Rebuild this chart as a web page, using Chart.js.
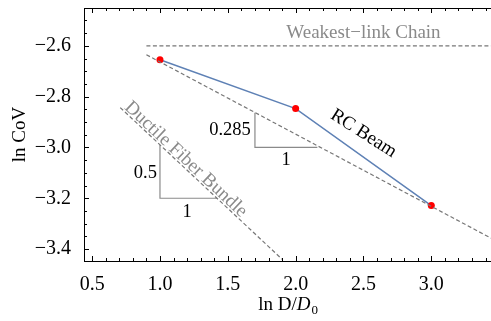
<!DOCTYPE html>
<html>
<head>
<meta charset="utf-8">
<script src="https://cdn.jsdelivr.net/npm/chart.js@4"></script>
<style>
	html, body { margin: 0; padding: 0; background: #fff; overflow: hidden; }
	#box { width: 495px; height: 321px; }
</style>
</head>
<body>
<div id="box"><canvas id="graficoCoV"></canvas></div>
<script>
// valores
var rcX = [1, 2, 3];
var rcY = [-2.655, -2.847, -3.229];

var weakestX = [0.9, 3.44];
var weakestY = [-2.6, -2.6];

var slopeX = [0.9, 3.44];
var slopeY = [-2.635, -3.357];

var ductileX = [0.707, 1.9];
var ductileY = [-2.843, -3.44];

var tri285X = [1.7, 1.7, 2.16];
var tri285Y = [-2.863, -3.0, -3.0];

var tri05X = [1.0, 1.0, 1.42];
var tri05Y = [-2.99, -3.2, -3.2];

var xTicks = [0.5, 1.0, 1.5, 2.0, 2.5, 3.0];
var yTicks = [-3.4, -3.2, -3.0, -2.8, -2.6];

var FONTE = '"Liberation Serif", "Times New Roman", serif';
var CINZA = '#8a8a8a';

function pontos(xs, ys) {
	return xs.map(function(x, i) { return { x: x, y: ys[i] }; });
}

function rotulo(v) {
	return (v < 0 ? '\u2212' : '') + Math.abs(v).toFixed(1);
}

// textos sobre o grafico (coordenadas nos eixos)
var anotacoes = [
	{ texto: 'Weakest\u2212link Chain', x: 2.5, y: -2.549, cor: CINZA, angulo: 0, alinha: 'center' },
	{ texto: 'RC Beam', x: 2.5, y: -2.945, cor: '#000', angulo: 32.5, alinha: 'center' },
	{ texto: 'Ductile Fiber Bundle', x: 1.19, y: -3.047, cor: CINZA, angulo: 43, alinha: 'center' },
	{ texto: '0.285', x: 1.67, y: -2.933, cor: '#000', angulo: 0, alinha: 'right' },
	{ texto: '1', x: 1.93, y: -3.051, cor: '#000', angulo: 0, alinha: 'center' },
	{ texto: '0.5', x: 0.978, y: -3.102, cor: '#000', angulo: 0, alinha: 'right' },
	{ texto: '1', x: 1.2, y: -3.255, cor: '#000', angulo: 0, alinha: 'center' }
];

var moldura = {
	id: 'moldura',
	afterDraw: function(chart) {
		var ctx = chart.ctx;
		var a = chart.chartArea;
		var sx = chart.scales.x, sy = chart.scales.y;
		ctx.save();
		ctx.strokeStyle = '#000';
		ctx.lineWidth = 1;
		ctx.beginPath();
		ctx.moveTo(a.left, a.top + 0.5);
		ctx.lineTo(a.right, a.top + 0.5);
		var i, v, px, len;
		for (i = 5; i <= 34; i++) {
			v = i / 10;
			px = Math.round(sx.getPixelForValue(v)) + 0.5;
			len = (i % 5 === 0) ? 5 : 3;
			ctx.moveTo(px, a.bottom);
			ctx.lineTo(px, a.bottom - len);
			ctx.moveTo(px, a.top);
			ctx.lineTo(px, a.top + len);
		}
		for (i = -68; i <= -50; i++) {
			v = i / 20;
			px = Math.round(sy.getPixelForValue(v)) + 0.5;
			len = (i % 4 === 0) ? 5 : 3;
			ctx.moveTo(a.left, px);
			ctx.lineTo(a.left + len, px);
		}
		ctx.stroke();

		ctx.textBaseline = 'middle';
		anotacoes.forEach(function(n) {
			ctx.save();
			ctx.font = (n.angulo === 0 && n.cor !== CINZA ? '18.5px ' : '19px ') + FONTE;
			ctx.translate(sx.getPixelForValue(n.x), sy.getPixelForValue(n.y));
			ctx.rotate(n.angulo * Math.PI / 180);
			ctx.fillStyle = n.cor;
			ctx.textAlign = n.alinha;
			ctx.fillText(n.texto, 0, 0);
			ctx.restore();
		});

		// titulos dos eixos
		ctx.fillStyle = '#000';
		ctx.textAlign = 'left';
		ctx.textBaseline = 'alphabetic';
		var cx = (a.left + a.right) / 2;
		var p1 = 'ln D/';
		ctx.font = '19px ' + FONTE;
		var w1 = ctx.measureText(p1).width;
		ctx.font = 'italic 19px ' + FONTE;
		var w2 = ctx.measureText('D').width;
		ctx.font = '13px ' + FONTE;
		var w3 = ctx.measureText('0').width;
		var x0 = cx - (w1 + w2 + w3) / 2;
		var base = 310;
		ctx.font = '19px ' + FONTE;
		ctx.fillText(p1, x0, base);
		ctx.font = 'italic 19px ' + FONTE;
		ctx.fillText('D', x0 + w1, base);
		ctx.font = '13px ' + FONTE;
		ctx.fillText('0', x0 + w1 + w2 + 1, base + 4);

		ctx.save();
		ctx.translate(25, (a.top + a.bottom) / 2);
		ctx.rotate(-Math.PI / 2);
		ctx.font = '19px ' + FONTE;
		ctx.textAlign = 'center';
		ctx.fillText('ln CoV', 0, 0);
		ctx.restore();
		ctx.restore();
	}
};

var tracejado = { borderColor: '#777777', borderWidth: 1.2, borderDash: [4, 2.5], pointRadius: 0, showLine: true, fill: false };
var triangulo = { borderColor: '#8a8a8a', borderWidth: 1.2, pointRadius: 0, showLine: true, fill: false };

var grafico = new Chart(document.getElementById('graficoCoV').getContext('2d'), {
	type: 'scatter',
	data: {
		datasets: [
			Object.assign({ data: pontos(weakestX, weakestY) }, tracejado),
			Object.assign({ data: pontos(slopeX, slopeY) }, tracejado),
			Object.assign({ data: pontos(ductileX, ductileY) }, tracejado),
			Object.assign({ data: pontos(tri285X, tri285Y) }, triangulo),
			Object.assign({ data: pontos(tri05X, tri05Y) }, triangulo),
			{
				label: 'RC Beam',
				data: pontos(rcX, rcY),
				showLine: true,
				borderColor: '#5e81b5',
				borderWidth: 1.5,
				pointRadius: 3.5,
				pointBackgroundColor: '#ff0000',
				pointBorderColor: '#ff0000',
				pointBorderWidth: 0
			}
		]
	},
	options: {
		responsive: true,
		maintainAspectRatio: false,
		animation: false,
		layout: { padding: { top: 8, right: 0, left: 0, bottom: 0 } },
		plugins: { legend: { display: false }, tooltip: { enabled: false } },
		scales: {
			x: {
				type: 'linear',
				min: 0.44,
				max: 3.44,
				grid: { display: false },
				border: { display: true, color: '#000', width: 1 },
				afterBuildTicks: function(s) { s.ticks = xTicks.map(function(v) { return { value: v }; }); },
				afterFit: function(s) { s.height = 60; s.paddingLeft = 0; s.paddingRight = 0; },
				ticks: {
					color: '#000',
					padding: 4,
					maxRotation: 0,
					font: { family: FONTE, size: 20 },
					callback: function(v) { return rotulo(v); }
				}
			},
			y: {
				type: 'linear',
				min: -3.447,
				max: -2.451,
				grid: { display: false },
				border: { display: true, color: '#000', width: 1 },
				afterBuildTicks: function(s) { s.ticks = yTicks.map(function(v) { return { value: v }; }); },
				afterFit: function(s) { s.width = 84; s.paddingTop = 0; s.paddingBottom = 0; },
				ticks: {
					color: '#000',
					padding: 5,
					font: { family: FONTE, size: 20 },
					callback: function(v) { return rotulo(v); }
				}
			}
		}
	},
	plugins: [moldura]
});
</script>
</body>
</html>
